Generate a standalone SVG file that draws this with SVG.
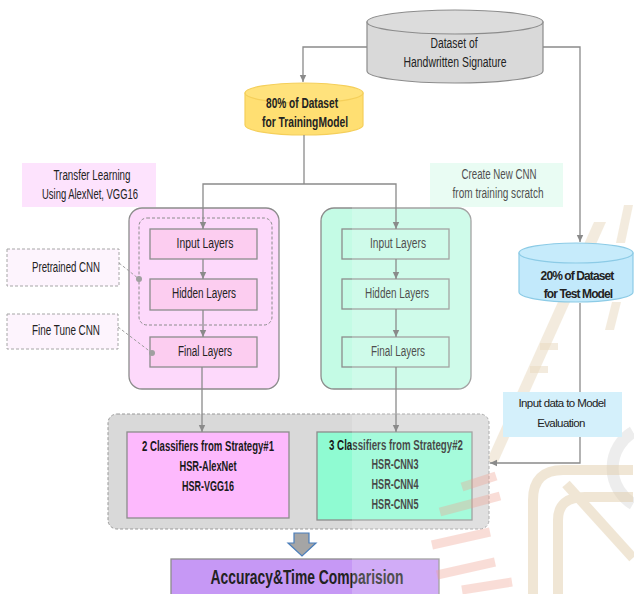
<svg xmlns="http://www.w3.org/2000/svg" width="634" height="594" viewBox="0 0 634 594">
  <defs>
    <marker id="arrow" markerUnits="userSpaceOnUse" markerWidth="8" markerHeight="8" refX="7" refY="4" orient="auto">
      <path d="M0,0.8 L7,4 L0,7.2 Z" fill="#8a8a8a"/>
    </marker>
    <style>
      text { font-family: "Liberation Sans", Arial, sans-serif; fill: #222222; text-anchor: middle; dominant-baseline: central; }
      .lbl { font-size: 14px; }
      .bold { font-size: 15px; font-weight: bold; fill: #1a1a1a; }
      .tight { font-size: 12px; letter-spacing: -0.9px; font-weight: bold; }
      .tight-r { font-size: 11.5px; letter-spacing: -0.6px; }
      .line { fill: none; stroke: #8a8a8a; stroke-width: 1.3; }
      .dash { fill: none; stroke: #a0a0a0; stroke-width: 1; stroke-dasharray: 3 2; }
      .panel { stroke: #8c8c8c; stroke-width: 1.3; }
      .layer { stroke: #8c8c8c; stroke-width: 1.3; }
      .tan { fill: #e3cfad; opacity: 0.5; }
    </style>
  </defs>
  <rect width="634" height="594" fill="#ffffff"/>

  <!-- background emblem, lower layer -->
  <g id="emblem-back">
    <polygon class="tan" points="594,222 606,222 498,462 486,462"/>
    <polygon class="tan" points="624,205 633,205 625,243 616,243"/>
    <polygon class="tan" points="612,302 621,302 614,330 605,330"/>
    <rect class="tan" x="540" y="343" width="18" height="7"/>
    <rect class="tan" x="530" y="366" width="18" height="7"/>
    <path d="M633,432 A42,42 0 0 0 633,504" fill="none" stroke="#cfcfcf" stroke-width="12" opacity="0.45"/>
  </g>

  <!-- source dataset -->
  <g id="dataset">
    <path d="M367,22 V71 A88,12 0 0 0 543,71 V22 Z" fill="#d9d9d9" stroke="#8c8c8c" stroke-width="1.2"/>
    <ellipse cx="455" cy="22" rx="88" ry="12" fill="#dcdcdc" stroke="#8c8c8c" stroke-width="1.2"/>
    <text class="lbl" x="454" y="43" textLength="47" lengthAdjust="spacingAndGlyphs">Dataset of</text>
    <text class="lbl" x="455" y="62" textLength="103" lengthAdjust="spacingAndGlyphs">Handwritten Signature</text>
  </g>

  <!-- training split -->
  <g id="train-set">
    <path d="M245,93 V125 A59,10 0 0 0 363,125 V93 Z" fill="#ffdf72" stroke="#f5cf5a" stroke-width="1.2"/>
    <ellipse cx="304" cy="93" rx="59" ry="10" fill="#ffe27c" stroke="#f5cf5a" stroke-width="1.2"/>
    <text class="lbl" x="302" y="103" textLength="72" lengthAdjust="spacingAndGlyphs" font-weight="bold">80% of Dataset</text>
    <text class="lbl" x="305" y="122" textLength="86" lengthAdjust="spacingAndGlyphs" font-weight="bold">for TrainingModel</text>
  </g>

  <!-- strategy notes -->
  <g id="note-transfer">
    <rect x="22" y="163" width="134" height="44" fill="#fde3fd"/>
    <text class="lbl" x="92" y="175" textLength="77" lengthAdjust="spacingAndGlyphs">Transfer Learning</text>
    <text class="lbl" x="90" y="194" textLength="96" lengthAdjust="spacingAndGlyphs">Using AlexNet, VGG16</text>
  </g>
  <g id="note-scratch">
    <rect x="430" y="163" width="133" height="44" fill="#e4fcf1"/>
    <text class="lbl" x="499" y="174" textLength="75" lengthAdjust="spacingAndGlyphs">Create New CNN</text>
    <text class="lbl" x="498" y="193" textLength="91" lengthAdjust="spacingAndGlyphs">from training scratch</text>
  </g>

  <!-- transfer learning pipeline -->
  <g id="transfer-panel">
    <rect class="panel" x="129" y="208" width="150" height="181" rx="13" fill="#fdd9fb"/>
    <rect x="139" y="218" width="133" height="107" rx="8" fill="none" stroke="#8c8c8c" stroke-width="1" stroke-dasharray="3 2"/>
  </g>
  <g id="t-input"><rect class="layer" x="150" y="229" width="107" height="30" fill="#fccdf0"/><text class="lbl" x="205" y="243" textLength="57" lengthAdjust="spacingAndGlyphs">Input Layers</text></g>
  <g id="t-hidden"><rect class="layer" x="150" y="279" width="107" height="31" fill="#fccdf0"/><text class="lbl" x="204" y="293" textLength="64" lengthAdjust="spacingAndGlyphs">Hidden Layers</text></g>
  <g id="t-final"><rect class="layer" x="150" y="337" width="107" height="30" fill="#fccdf0"/><text class="lbl" x="205" y="351" textLength="54" lengthAdjust="spacingAndGlyphs">Final Layers</text></g>

  <g id="pretrained">
    <rect x="7" y="249" width="112" height="37" fill="#fdf4fd" stroke="#a6a6a6" stroke-width="1" stroke-dasharray="3 2"/>
    <text class="lbl" x="66" y="267" textLength="68" lengthAdjust="spacingAndGlyphs">Pretrained CNN</text>
  </g>
  <g id="finetune">
    <rect x="7" y="314" width="111" height="35" fill="#fdf4fd" stroke="#a6a6a6" stroke-width="1" stroke-dasharray="3 2"/>
    <text class="lbl" x="66" y="330" textLength="68" lengthAdjust="spacingAndGlyphs">Fine Tune CNN</text>
  </g>

  <!-- new CNN pipeline -->
  <g id="scratch-panel">
    <rect class="panel" x="321" y="208" width="150" height="181" rx="13" fill="#c4fbe5"/>
  </g>
  <g id="s-input"><rect class="layer" x="342" y="229" width="107" height="30" fill="#c4fbe5"/><text class="lbl" x="398" y="243" textLength="56" lengthAdjust="spacingAndGlyphs">Input Layers</text></g>
  <g id="s-hidden"><rect class="layer" x="342" y="279" width="107" height="30" fill="#c4fbe5"/><text class="lbl" x="397" y="293" textLength="64" lengthAdjust="spacingAndGlyphs">Hidden Layers</text></g>
  <g id="s-final"><rect class="layer" x="342" y="337" width="107" height="30" fill="#c4fbe5"/><text class="lbl" x="398" y="351" textLength="54" lengthAdjust="spacingAndGlyphs">Final Layers</text></g>

  <!-- classifiers -->
  <g id="classifiers">
    <rect x="108" y="414" width="381" height="115" rx="9" fill="#d9d9d9" stroke="#999999" stroke-width="1" stroke-dasharray="3 2"/>
  </g>
  <g id="strategy1">
    <rect x="127" y="432" width="162" height="86" fill="#fdb9fd" stroke="#8c8c8c" stroke-width="1.3"/>
    <text class="bold" x="208" y="445" textLength="132" lengthAdjust="spacingAndGlyphs">2 Classifiers from Strategy#1</text>
    <text class="bold" x="208" y="465" textLength="57" lengthAdjust="spacingAndGlyphs">HSR-AlexNet</text>
    <text class="bold" x="208" y="485" textLength="52" lengthAdjust="spacingAndGlyphs">HSR-VGG16</text>
  </g>
  <g id="strategy2">
    <rect x="317" y="432" width="155" height="88" fill="#8ffbd2" stroke="#8c8c8c" stroke-width="1.3"/>
    <text class="bold" x="396" y="444" textLength="134" lengthAdjust="spacingAndGlyphs">3 Classifiers from Strategy#2</text>
    <text class="bold" x="395" y="463" textLength="47" lengthAdjust="spacingAndGlyphs">HSR-CNN3</text>
    <text class="bold" x="395" y="483" textLength="47" lengthAdjust="spacingAndGlyphs">HSR-CNN4</text>
    <text class="bold" x="395" y="503" textLength="47" lengthAdjust="spacingAndGlyphs">HSR-CNN5</text>
  </g>

  <!-- result -->
  <g id="down-arrow">
    <path d="M294,533 H309 V543 H316 L302,556 L288,543 H294 Z" fill="#a5a5a5" stroke="#4a7ebb" stroke-width="1.2"/>
  </g>
  <g id="comparison">
    <rect x="171" y="559" width="268" height="40" fill="#c698f5" stroke="#8c8c8c" stroke-width="1.3"/>
    <text x="307" y="577" font-size="20" font-weight="bold" fill="#1a1a1a" textLength="193" lengthAdjust="spacingAndGlyphs">Accuracy&amp;Time Comparision</text>
  </g>

  <!-- background emblem, translucent upper layer -->
  <g id="emblem-front">
    <rect x="352" y="140" width="282" height="454" fill="#ffffff" opacity="0.2"/>
    <g fill="none" stroke="#e3cfad" stroke-width="10" opacity="0.5">
      <path d="M533,594 V500 Q533,470 563,470 H633"/>
      <path d="M558,594 V520 Q558,497 585,497 H633"/>
      <path d="M566,484 L633,558"/>
    </g>
    <g stroke="#f0a090" stroke-width="9" opacity="0.35" fill="none">
      <path d="M462,487 L496,476"/>
      <path d="M440,512 L500,496"/>
      <path d="M432,545 L490,532"/>
      <path d="M437,575 L495,562"/>
      <path d="M462,590 L512,582"/>
    </g>
  </g>

  <!-- test split -->
  <g id="test-set">
    <path d="M519,253 V292 A57,10 0 0 0 633,292 V253 Z" fill="#c2e9fb" stroke="#8ccbe6" stroke-width="1.2"/>
    <ellipse cx="576" cy="253" rx="57" ry="10" fill="#c6ebfb" stroke="#8ccbe6" stroke-width="1.2"/>
    <text class="tight" x="577" y="276">20% of Dataset</text>
    <text class="tight" x="578" y="294">for Test Model</text>
  </g>

  <!-- connectors -->
  <g id="connectors">
    <path class="line" d="M367,47 H303 V82" marker-end="url(#arrow)"/>
    <path class="line" d="M543,47 H580 V242" marker-end="url(#arrow)"/>
    <path class="line" d="M304,135 V184"/>
    <path class="line" d="M304,184 H203 V229" marker-end="url(#arrow)"/>
    <path class="line" d="M304,184 H396 V229" marker-end="url(#arrow)"/>
    <path class="line" d="M203,259 V279" marker-end="url(#arrow)"/>
    <path class="line" d="M203,310 V337" marker-end="url(#arrow)"/>
    <path class="line" d="M202,367 V432" marker-end="url(#arrow)"/>
    <path class="line" d="M396,259 V279" marker-end="url(#arrow)"/>
    <path class="line" d="M396,309 V337" marker-end="url(#arrow)"/>
    <path class="line" d="M396,367 V432" marker-end="url(#arrow)"/>
    <path class="line" d="M580,303 V392"/>
    <path class="line" d="M580,437 V463 H490" marker-end="url(#arrow)"/>
    <path class="dash" d="M119,263 L139,279"/>
    <circle cx="139" cy="279" r="3" fill="#a0a0a0"/>
    <path class="dash" d="M118,327 L152,353"/>
    <circle cx="152" cy="353" r="3" fill="#a0a0a0"/>
  </g>

  <!-- evaluation note sits across the test-data line -->
  <g id="note-eval">
    <rect x="503" y="392" width="119" height="45" fill="#d4f0fb"/>
    <text class="tight-r" x="562" y="403">Input data to Model</text>
    <text class="tight-r" x="561" y="423">Evaluation</text>
  </g>
</svg>
